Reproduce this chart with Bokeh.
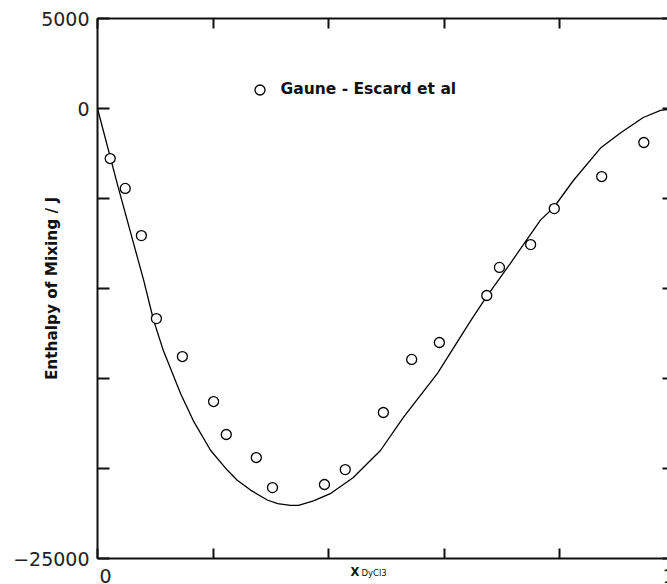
import math
from bokeh.plotting import figure
from bokeh.models import (Range1d, LinearAxis, FixedTicker, Label, Legend, LegendItem)
from bokeh.embed import file_html
from bokeh.resources import INLINE

# ---- data ----
curve_x = [0.0, 0.036, 0.080, 0.097, 0.114, 0.144, 0.166, 0.196, 0.225, 0.242, 0.265,
           0.294, 0.312, 0.334, 0.348, 0.374, 0.403, 0.443, 0.490, 0.530, 0.589, 0.646,
           0.675, 0.715, 0.767, 0.790, 0.824, 0.871, 0.906, 0.945, 0.975, 1.0]
curve_y = [0, -4400, -9550, -11750, -13450, -15850, -17350, -19000, -20100, -20650, -21200,
           -21750, -21950, -22050, -22050, -21800, -21400, -20500, -19000, -17150, -14700, -11800,
           -10400, -8600, -6200, -5500, -4000, -2200, -1350, -500, -100, 0]

exp_x = [0.022, 0.048, 0.076, 0.102, 0.147, 0.201, 0.223, 0.275, 0.303, 0.393,
         0.429, 0.495, 0.544, 0.592, 0.674, 0.696, 0.750, 0.791, 0.873, 0.946]
exp_y = [-2780, -4440, -7060, -11670, -13780, -16280, -18110, -19390, -21060, -20890,
         -20060, -16890, -13940, -13000, -10390, -8830, -7560, -5560, -3780, -1890]

y_labelled_ticks = [-25000, 0, 5000]
y_minor_ticks = [-20000, -15000, -10000, -5000]
x_ticks = [0.0, 0.2, 0.4, 0.6, 0.8, 1.0]
x_tick_labels = ["0", "1"]
series_name = "Gaune - Escard et al"
y_title = "Enthalpy of Mixing / J"
x_title = "X"
x_title_sub = "DyCl3"

X_MIN, X_MAX = 0.0, 1.0
Y_MIN, Y_MAX = -25000, 5000

# ---- figure ----
p = figure(width=667, height=584, output_backend="svg", toolbar_location=None,
           x_range=Range1d(X_MIN, 0.987), y_range=Range1d(Y_MIN, Y_MAX),
           x_axis_location=None, y_axis_location=None,
           min_border_left=97, min_border_right=0, min_border_top=18, min_border_bottom=26)
p.outline_line_color = None
p.grid.visible = False
p.background_fill_color = "white"
p.border_fill_color = "white"

FONT = "DejaVu Sans"
INK = "#111111"

def style_axis(ax, tin):
    ax.axis_line_width = 2
    ax.axis_line_color = INK
    ax.major_tick_line_width = 2
    ax.major_tick_line_color = INK
    ax.major_tick_in = tin
    ax.major_tick_out = 0
    ax.minor_tick_line_color = None

def hide_labels(ax):
    ax.major_label_text_font_size = "0px"
    ax.major_label_text_color = None
    ax.major_label_standoff = 0

left = LinearAxis(ticker=FixedTicker(ticks=y_labelled_ticks, minor_ticks=y_minor_ticks))
style_axis(left, 12)
left.minor_tick_line_color = INK
left.minor_tick_line_width = 2
left.minor_tick_in = 12
left.minor_tick_out = 0
left.major_label_text_font = FONT
left.major_label_text_font_size = "19px"
left.major_label_text_color = "#222222"
left.major_label_standoff = 8
left.axis_label = y_title
left.axis_label_text_font = FONT
left.axis_label_text_font_style = "bold"
left.axis_label_text_font_size = "15.3px"
left.axis_label_text_color = INK
left.axis_label_standoff = -51
p.add_layout(left, "left")

bottom = LinearAxis(ticker=FixedTicker(ticks=x_ticks))
style_axis(bottom, 10)
hide_labels(bottom)
p.add_layout(bottom, "below")

top = LinearAxis(ticker=FixedTicker(ticks=x_ticks))
style_axis(top, 10)
hide_labels(top)
p.add_layout(top, "above")

right = LinearAxis(ticker=FixedTicker(ticks=y_labelled_ticks + y_minor_ticks))
style_axis(right, 5)
right.axis_line_color = None
hide_labels(right)
p.add_layout(right, "right")

# ---- data glyphs ----
p.line(curve_x, curve_y, line_color="black", line_width=1.3)
pts = p.scatter(exp_x, exp_y, marker="circle", size=10, fill_color="white",
                line_color="black", line_width=1.3)

legend = Legend(items=[LegendItem(label=series_name, renderers=[pts])],
                location=(149.5, 456.5), padding=0, margin=0, spacing=0,
                glyph_width=25, glyph_height=25, label_height=25, label_width=10,
                label_standoff=9, border_line_color=None, background_fill_alpha=0,
                label_text_font=FONT, label_text_font_style="bold",
                label_text_font_size="15.5px", label_text_color=INK)
p.add_layout(legend)

# ---- texts outside the frame (placed in side panels so they are not clipped) ----
span = Y_MAX - Y_MIN
p.add_layout(Label(x=X_MIN + 0.014, y=Y_MIN - 0.0315 * span, text=x_tick_labels[0], text_font=FONT,
                   text_font_size="19px", text_color="#222222",
                   text_align="center", text_baseline="middle"), "below")
p.add_layout(Label(x=X_MAX - 0.011, y=Y_MIN - 0.0315 * span, text=x_tick_labels[1], text_font=FONT,
                   text_font_size="19px", text_color="#222222",
                   text_align="center", text_baseline="middle"), "left")
p.add_layout(Label(x=0.438, y=Y_MIN - 0.0243 * span, text=x_title, text_font=FONT,
                   text_font_style="bold", text_font_size="11.5px", text_color=INK,
                   text_align="left", text_baseline="middle"), "left")
p.add_layout(Label(x=0.457, y=Y_MIN - 0.0272 * span, text=x_title_sub, text_font=FONT,
                   text_font_size="8.5px", text_color=INK,
                   text_align="left", text_baseline="middle"), "above")

open("out.html", "w").write(file_html(p, INLINE))
